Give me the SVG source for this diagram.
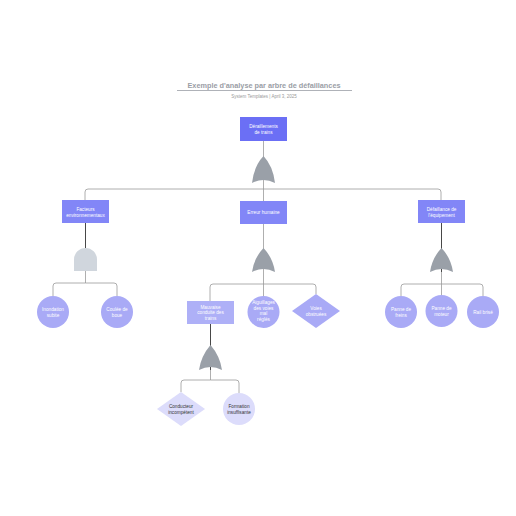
<svg xmlns="http://www.w3.org/2000/svg" width="516" height="516" viewBox="0 0 516 516">
<style>
text{font-family:"Liberation Sans",Arial,sans-serif;text-anchor:middle}
.t{font-size:4.7px;fill:#fff}
.d{font-size:4.7px;fill:#333}
.c{fill:none;stroke:#9a9a9a;stroke-width:0.8}
.k{fill:none;stroke:#333;stroke-width:0.9}
.or{fill:#9aa0a8}
.and{fill:#d0d6dd}
</style>
<rect width="516" height="516" fill="#fff"/>
<text x="264" y="88" style="font-size:7.3px;font-weight:bold;fill:#9a9ea6">Exemple d'analyse par arbre de défaillances</text>
<line x1="177" y1="90.5" x2="352" y2="90.5" stroke="#9a9ea6" stroke-width="0.8"/>
<text x="264" y="97.5" style="font-size:4.5px;fill:#999">System Templates  |  April 3, 2025</text>
<g id="connectors">
<path class="c" d="M263.5 141 V189"/>
<path class="c" d="M263.5 189 H88 Q85 189 85 192 V200 M263.5 189 V201 M263.5 189 H438 Q441 189 441 192 V200"/>
<path class="k" d="M85.5 223 V248"/>
<path class="c" d="M85.5 271 V283 H56 Q53 283 53 286 V296 M85.5 283 H114 Q117 283 117 286 V296"/>
<path class="c" d="M263.5 224 V284"/>
<path class="c" d="M263.5 284 H213 Q210 284 210 287 V301 M263.5 284 V296 M263.5 284 H313 Q316 284 316 287 V294"/>
<path class="k" d="M441.5 223 V272"/>
<path class="c" d="M441.5 272 V284 H404 Q401 284 401 287 V296 M441.5 284 V295 M441.5 284 H480 Q483 284 483 287 V296"/>
<path class="k" d="M210.5 324 V370"/>
<path class="c" d="M210.5 370 V380 H184 Q181 380 181 383 V392 M210.5 380 H236 Q239 380 239 383 V393"/>
</g>
<g id="n-top"><rect x="240" y="117" width="47" height="24" fill="#6b6ff5"/><text class="t" x="263.5" y="128">Déraillements</text><text class="t" x="263.5" y="134">de trains</text></g>
<g id="g-top"><path class="or" d="M263.5 156 Q273 166 275 183 Q263.5 177 252 183 Q254 166 263.5 156 Z"/></g>
<g id="n-env"><rect x="62" y="200" width="47" height="23" fill="#8286f7"/><text class="t" x="85.5" y="210.5">Facteurs</text><text class="t" x="85.5" y="216.5">environnementaux</text></g>
<g id="n-hum"><rect x="240" y="201" width="47" height="23" fill="#8286f7"/><text class="t" x="263.5" y="214">Erreur humaine</text></g>
<g id="n-equip"><rect x="418" y="200" width="47" height="23" fill="#8286f7"/><text class="t" x="441.5" y="210.5">Défaillance de</text><text class="t" x="441.5" y="216.5">l'équipement</text></g>
<g id="g-and"><path class="and" d="M74 271 V259.5 A11.5 11.5 0 0 1 97 259.5 V271 Z"/></g>
<g id="g-hum"><path class="or" d="M263.5 248 Q273 258 275 272 Q263.5 266 252 272 Q254 258 263.5 248 Z"/></g>
<g id="g-equip"><path class="or" d="M441.5 248 Q451 258 453 272 Q441.5 266 430 272 Q432 258 441.5 248 Z"/></g>
<g id="n-inond"><circle cx="53" cy="312" r="16" fill="#a9aaf6"/><text class="t" x="53" y="311">Inondation</text><text class="t" x="53" y="317">subite</text></g>
<g id="n-coulee"><circle cx="117" cy="312" r="16" fill="#a9aaf6"/><text class="t" x="117" y="311">Coulée de</text><text class="t" x="117" y="317">boue</text></g>
<g id="n-mauv"><rect x="187" y="301" width="47" height="23" fill="#aeb0f7"/><text class="t" x="210.5" y="308.5">Mauvaise</text><text class="t" x="210.5" y="314">conduite des</text><text class="t" x="210.5" y="319.5">trains</text></g>
<g id="n-aig"><circle cx="263.5" cy="312" r="16" fill="#a9aaf6"/><text class="t" x="263.5" y="304">Aiguillages</text><text class="t" x="263.5" y="309.5">des voies</text><text class="t" x="263.5" y="315">mal</text><text class="t" x="263.5" y="320.5">réglés</text></g>
<g id="n-obst"><path d="M316 294 L340 311 L316 328 L292 311 Z" fill="#a9aaf6"/><text class="t" x="316" y="310">Voies</text><text class="t" x="316" y="315.5">obstruées</text></g>
<g id="n-freins"><circle cx="401" cy="312" r="16" fill="#a9aaf6"/><text class="t" x="401" y="311">Panne de</text><text class="t" x="401" y="317">freins</text></g>
<g id="n-moteur"><circle cx="441.5" cy="311" r="16" fill="#a9aaf6"/><text class="t" x="441.5" y="310">Panne de</text><text class="t" x="441.5" y="316">moteur</text></g>
<g id="n-rail"><circle cx="483" cy="312" r="16" fill="#a9aaf6"/><text class="t" x="483" y="314">Rail brisé</text></g>
<g id="g-mauv"><path class="or" d="M210.5 345 Q220 356 222 370 Q210.5 364 199 370 Q201 356 210.5 345 Z"/></g>
<g id="n-cond"><path d="M181 392 L205 409 L181 426 L157 409 Z" fill="#dcdcfb"/><text class="d" x="181" y="408">Conducteur</text><text class="d" x="181" y="413.5">incompétent</text></g>
<g id="n-form"><circle cx="239" cy="409" r="16" fill="#dcdcfb"/><text class="d" x="239" y="408">Formation</text><text class="d" x="239" y="413.5">insuffisante</text></g>
</svg>
